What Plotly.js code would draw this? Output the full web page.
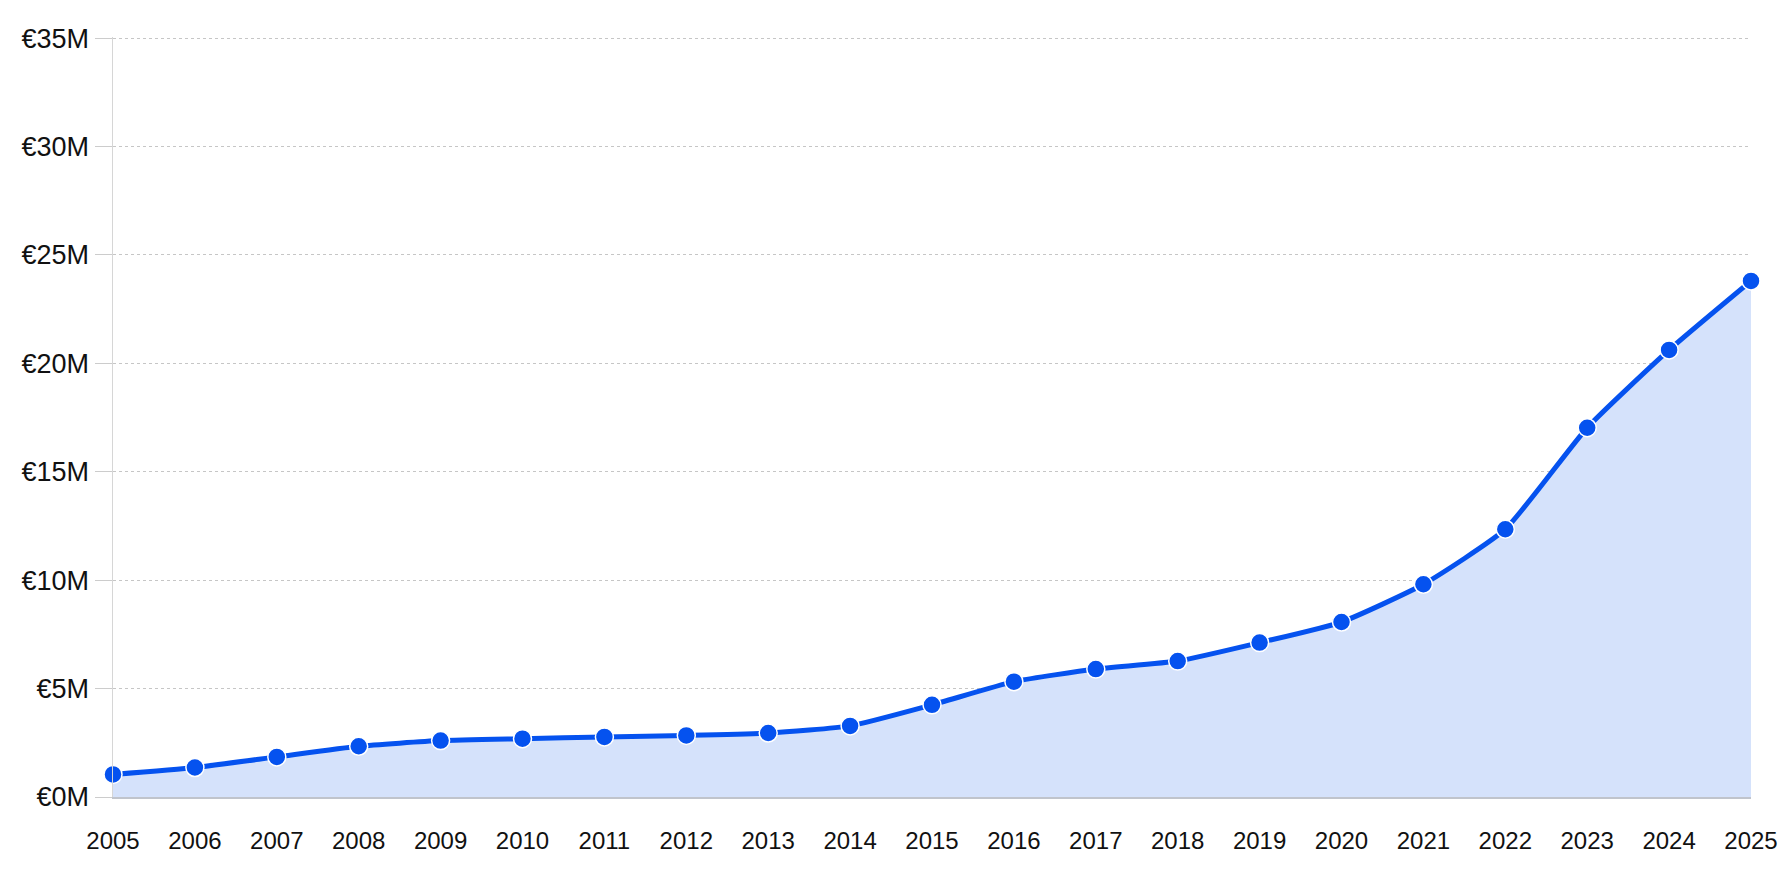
<!DOCTYPE html>
<html>
<head>
<meta charset="utf-8">
<script src="https://cdn.plot.ly/plotly-3.0.1.min.js"></script>
<style>
	html, body { margin: 0; padding: 0; background: #fff; }
	#chart { width: 1789px; height: 879px; }
</style>
</head>
<body>
<div id="chart"></div>
<script>
// years on the x axis
var years = [ 2005, 2006, 2007, 2008, 2009, 2010, 2011, 2012, 2013, 2014, 2015,
	2016, 2017, 2018, 2019, 2020, 2021, 2022, 2023, 2024, 2025 ];

// value in millions of euros
var valuesM = [ 1.04, 1.36, 1.85, 2.34, 2.6, 2.69, 2.77, 2.84, 2.95, 3.28, 4.25,
	5.32, 5.9, 6.27, 7.12, 8.07, 9.81, 12.35, 17.03, 20.62, 23.8 ];

var yTicks = [ 0, 5, 10, 15, 20, 25, 30, 35 ];

var lineColor = '#0552ef';

var data = [ {
	x : years,
	y : valuesM,
	type : 'scatter',
	mode : 'lines+markers',
	fill : 'tozeroy',
	fillcolor : '#d5e2fb',
	cliponaxis : false,
	line : {
		color : lineColor,
		width : 5,
		shape : 'spline',
		smoothing : 0.5
	},
	marker : {
		color : lineColor,
		size : 18,
		line : {
			color : '#ffffff',
			width : 1.5
		}
	},
	hoverinfo : 'x+y'
} ];

var layout = {
	width : 1789,
	height : 879,
	margin : { l : 113, r : 38, t : 37, b : 82 },
	paper_bgcolor : '#ffffff',
	plot_bgcolor : '#ffffff',
	showlegend : false,
	font : {
		family : 'Liberation Sans, Arial, sans-serif',
		color : '#111111'
	},
	xaxis : {
		range : [ 2005, 2025 ],
		tickmode : 'array',
		tickvals : years,
		ticktext : years.map(String),
		showgrid : false,
		zeroline : false,
		showline : true,
		linecolor : '#c0c4cc',
		linewidth : 1.5,
		ticks : '',
		ticklabelstandoff : 22,
		tickfont : { size : 24 }
	},
	yaxis : {
		range : [ 0, 35.05 ],
		tickmode : 'array',
		tickvals : yTicks,
		ticktext : yTicks.map(function(v) { return '€' + v + 'M'; }),
		showgrid : true,
		gridcolor : '#c6c6c6',
		griddash : '3px,3px',
		gridwidth : 1,
		zeroline : false,
		showline : true,
		linecolor : '#d6d6d6',
		linewidth : 1.5,
		ticks : 'outside',
		ticklen : 17,
		tickcolor : '#cccccc',
		ticklabelstandoff : 0,
		tickfont : { size : 27 }
	}
};

Plotly.newPlot('chart', data, layout, { displayModeBar : false, staticPlot : true });
</script>
</body>
</html>
